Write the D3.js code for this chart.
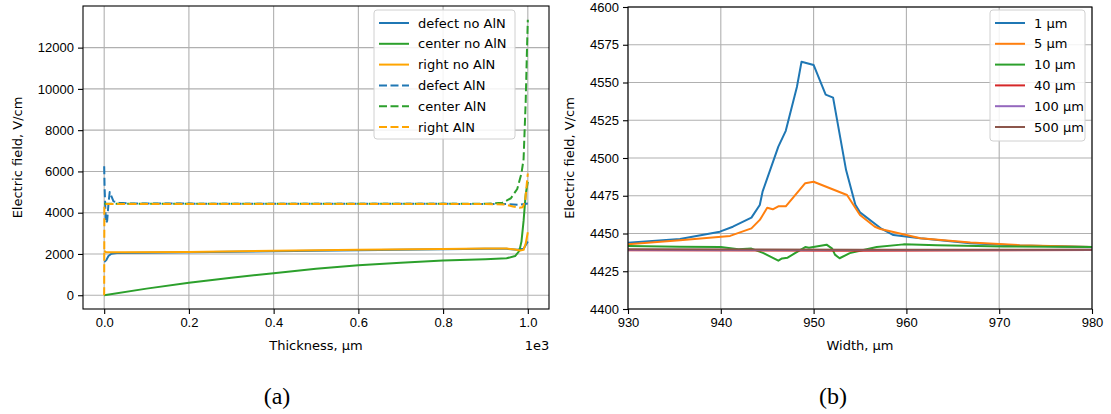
<!DOCTYPE html>
<html>
<head>
<meta charset="utf-8">
<script src="https://cdn.jsdelivr.net/npm/d3@7"></script>
<style>
  body { margin: 0; background: #fff; }
  svg { display: block; font-family: "DejaVu Sans", sans-serif; }
  .tick text { font-size: 13px; fill: #000; }
  .tick line { stroke: #000; stroke-width: 1.1; }
  .domain { display: none; }
</style>
</head>
<body>
<div id="canvas"></div>
<script>
// ---- left panel (a): field vs thickness ----
var thicknessTicks = [0, 200, 400, 600, 800, 1000];
var thicknessTickLabels = ["0.0", "0.2", "0.4", "0.6", "0.8", "1.0"];
var fieldTicksA = [0, 2000, 4000, 6000, 8000, 10000, 12000];

var defectNoAlnX = [0, 2, 5, 10, 17, 30, 100, 200, 400, 600, 800, 900, 950, 975, 990, 1000];
var defectNoAlnY = [1650, 1640, 1700, 1900, 2010, 2050, 2060, 2080, 2130, 2180, 2230, 2250, 2250, 2200, 2250, 2600];
var centerNoAlnX = [0, 100, 200, 300, 400, 500, 600, 700, 800, 900, 950, 970, 980, 985, 990, 995, 1000];
var centerNoAlnY = [0, 320, 600, 850, 1070, 1280, 1450, 1580, 1680, 1750, 1790, 1900, 2150, 2600, 3600, 4900, 5500];
var rightNoAlnX = [0, 5, 50, 200, 400, 600, 800, 900, 950, 970, 982, 990, 995, 1000];
var rightNoAlnY = [2150, 2080, 2080, 2100, 2150, 2200, 2240, 2260, 2260, 2220, 2170, 2200, 2500, 3050];
var defectAlnX = [0, 1, 4, 7, 10, 13, 17, 22, 35, 60, 200, 500, 800, 950, 980, 1000];
var defectAlnY = [6250, 5200, 3500, 3600, 4400, 5000, 4800, 4550, 4480, 4450, 4440, 4430, 4430, 4420, 4380, 4450];
var centerAlnX = [0, 100, 500, 900, 940, 960, 975, 985, 990, 995, 998, 1000];
var centerAlnY = [4430, 4430, 4430, 4430, 4480, 4700, 5150, 5900, 6600, 9400, 11900, 13350];
var rightAlnX = [0, 0.5, 5, 100, 500, 900, 945, 965, 980, 988, 994, 998, 1000];
var rightAlnY = [0, 4400, 4420, 4420, 4420, 4420, 4400, 4300, 4240, 4260, 4600, 5500, 5900];

// ---- right panel (b): field vs width ----
var widthTicks = [930, 940, 950, 960, 970, 980];
var fieldTicksB = [4400, 4425, 4450, 4475, 4500, 4525, 4550, 4575, 4600];

var w1 = [930, 935.6, 939.9, 941.3, 943.3, 944.2, 944.5, 946.2, 947.0, 948.2, 948.7, 950.0, 951.3, 952.1, 953.5, 954.5, 955.0, 957.2, 958.6, 961.5, 966.9, 972.2, 980];
var v1 = [4443.9, 4446.4, 4451.2, 4454.5, 4460.5, 4468.9, 4477.7, 4507.5, 4518, 4547, 4563.8, 4561.6, 4542, 4540, 4492, 4469, 4464, 4453.6, 4449, 4446.8, 4443.5, 4442, 4441];
var w5 = [930, 935.6, 941.0, 943.3, 944.2, 945.0, 945.6, 946.2, 947.0, 949.1, 950.0, 953.6, 955.0, 956.6, 957.2, 958.6, 961.5, 966.9, 972.2, 980];
var v5 = [4442.8, 4445.6, 4448.4, 4453.4, 4459, 4467, 4466, 4468, 4468, 4483.3, 4484.3, 4475.5, 4462.3, 4454.5, 4453, 4451, 4446.8, 4444, 4442.3, 4441];
var w10 = [930, 935.6, 940.0, 941.9, 943.3, 944.6, 946.2, 946.6, 947.2, 948.0, 949.1, 949.5, 951.4, 952.0, 952.3, 952.8, 953.9, 955.0, 956.8, 959.7, 963.3, 970.5, 980];
var v10 = [4441.7, 4441.3, 4441, 4439.5, 4440, 4437, 4432, 4433.5, 4434, 4437, 4441, 4440.5, 4442.6, 4440, 4436, 4433.6, 4437, 4438.6, 4441, 4442.8, 4442.3, 4441.4, 4441];
var wFlat = [930, 955, 980];
var v40 = [4438.9, 4438.6, 4439.0];
var v100 = [4439.2, 4439.0, 4439.2];
var v500 = [4439.5, 4439.2, 4439.3];

var seriesA = [
  {name: "defect no AlN", x: defectNoAlnX, y: defectNoAlnY, color: "#1f77b4", dash: null},
  {name: "center no AlN", x: centerNoAlnX, y: centerNoAlnY, color: "#2ca02c", dash: null},
  {name: "right no AlN", x: rightNoAlnX, y: rightNoAlnY, color: "#ffa500", dash: null},
  {name: "defect AlN", x: defectAlnX, y: defectAlnY, color: "#1f77b4", dash: "8,3.5"},
  {name: "center AlN", x: centerAlnX, y: centerAlnY, color: "#2ca02c", dash: "8,3.5"},
  {name: "right AlN", x: rightAlnX, y: rightAlnY, color: "#ffa500", dash: "8,3.5"}
];
var seriesB = [
  {name: "1 \u00b5m", x: w1, y: v1, color: "#1f77b4"},
  {name: "5 \u00b5m", x: w5, y: v5, color: "#ff7f0e"},
  {name: "10 \u00b5m", x: w10, y: v10, color: "#2ca02c"},
  {name: "40 \u00b5m", x: wFlat, y: v40, color: "#d62728"},
  {name: "100 \u00b5m", x: wFlat, y: v100, color: "#9467bd"},
  {name: "500 \u00b5m", x: wFlat, y: v500, color: "#8c564b"}
];

var svg = d3.select("#canvas").append("svg")
  .attr("width", 1111).attr("height", 414);
svg.append("rect").attr("width", 1111).attr("height", 414).attr("fill", "#fff");

function panel(opt) {
  var x = d3.scaleLinear().domain(opt.xDomain).range([opt.left, opt.right]);
  var y = d3.scaleLinear().domain(opt.yDomain).range([opt.bottom, opt.top]);
  var g = svg.append("g");

  // grid
  g.selectAll(".vg").data(opt.xTicks).enter().append("line")
    .attr("x1", function(d){ return x(d); }).attr("x2", function(d){ return x(d); })
    .attr("y1", opt.top).attr("y2", opt.bottom)
    .attr("stroke", "#b0b0b0").attr("stroke-width", 1.1);
  g.selectAll(".hg").data(opt.yTicks).enter().append("line")
    .attr("y1", function(d){ return y(d); }).attr("y2", function(d){ return y(d); })
    .attr("x1", opt.left).attr("x2", opt.right)
    .attr("stroke", "#b0b0b0").attr("stroke-width", 1.1);

  var clipId = "clip" + opt.id;
  svg.append("clipPath").attr("id", clipId).append("rect")
    .attr("x", opt.left).attr("y", opt.top)
    .attr("width", opt.right - opt.left).attr("height", opt.bottom - opt.top);

  var line = d3.line().x(function(d){ return x(d[0]); }).y(function(d){ return y(d[1]); });
  var lines = g.append("g").attr("clip-path", "url(#" + clipId + ")");
  opt.series.forEach(function(s){
    lines.append("path")
      .datum(d3.zip(s.x, s.y))
      .attr("d", line)
      .attr("fill", "none")
      .attr("stroke", s.color)
      .attr("stroke-width", 2)
      .attr("stroke-linejoin", "round")
      .attr("stroke-dasharray", s.dash || null);
  });

  // axes
  g.append("g").attr("transform", "translate(0," + opt.bottom + ")")
    .call(d3.axisBottom(x).tickValues(opt.xTicks).tickSize(5).tickPadding(4)
      .tickFormat(function(d, i){ return opt.xLabels ? opt.xLabels[i] : d; }));
  g.append("g").attr("transform", "translate(" + opt.left + ",0)")
    .call(d3.axisLeft(y).tickValues(opt.yTicks).tickSize(5).tickPadding(4)
      .tickFormat(function(d){ return d; }));

  g.append("rect")
    .attr("x", opt.left).attr("y", opt.top)
    .attr("width", opt.right - opt.left).attr("height", opt.bottom - opt.top)
    .attr("fill", "none").attr("stroke", "#000").attr("stroke-width", 1.1);

  // labels
  g.append("text").attr("x", (opt.left + opt.right) / 2).attr("y", opt.bottom + 41)
    .attr("text-anchor", "middle").attr("font-size", 13).text(opt.xTitle);
  g.append("text")
    .attr("transform", "translate(" + opt.yTitleX + "," + ((opt.top + opt.bottom) / 2) + ") rotate(-90)")
    .attr("text-anchor", "middle").attr("font-size", 13).text("Electric field, V/cm");

  // legend
  var lg = g.append("g");
  lg.append("rect")
    .attr("x", opt.legend.x).attr("y", opt.legend.y)
    .attr("width", opt.legend.w).attr("height", opt.legend.h)
    .attr("rx", 3).attr("fill", "#fff").attr("fill-opacity", 0.85)
    .attr("stroke", "#d0d0d0");
  opt.series.forEach(function(s, i){
    var yy = opt.legend.y + 13 + i * 20.8;
    lg.append("line")
      .attr("x1", opt.legend.x + 5).attr("x2", opt.legend.x + 35)
      .attr("y1", yy).attr("y2", yy)
      .attr("stroke", s.color).attr("stroke-width", 2)
      .attr("stroke-dasharray", s.dash || null);
    lg.append("text")
      .attr("x", opt.legend.x + 44).attr("y", yy).attr("dy", "0.35em")
      .attr("font-size", 13).text(s.name);
  });

  // caption
  svg.append("text").attr("x", opt.captionX).attr("y", 404)
    .attr("text-anchor", "middle")
    .attr("font-family", "'Liberation Serif', 'DejaVu Serif', serif")
    .attr("font-size", 24).text(opt.caption);
  return g;
}

var ga = panel({
  id: "a", left: 83, right: 549, top: 6, bottom: 309,
  xDomain: [-50, 1050], yDomain: [-667, 14017],
  xTicks: thicknessTicks, xLabels: thicknessTickLabels, yTicks: fieldTicksA,
  series: seriesA, xTitle: "Thickness,  \u00b5m", yTitleX: 22,
  legend: {x: 374, y: 10, w: 141, h: 129},
  caption: "(a)", captionX: 277
});
ga.append("text").attr("x", 537).attr("y", 350).attr("text-anchor", "middle")
  .attr("font-size", 13).text("1e3");

panel({
  id: "b", left: 628, right: 1092, top: 7, bottom: 309,
  xDomain: [930, 980], yDomain: [4400, 4600],
  xTicks: widthTicks, xLabels: null, yTicks: fieldTicksB,
  series: seriesB, xTitle: "Width,  \u00b5m", yTitleX: 574,
  legend: {x: 990, y: 10, w: 95, h: 131},
  caption: "(b)", captionX: 833
});
</script>
</body>
</html>
